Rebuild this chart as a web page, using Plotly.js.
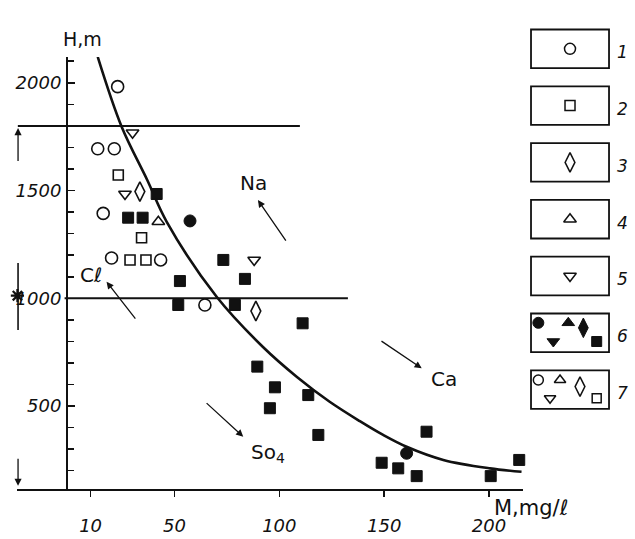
<!DOCTYPE html>
<html><head><meta charset="utf-8">
<script src="https://cdn.plot.ly/plotly-3.0.1.min.js"></script>
<style>html,body{margin:0;padding:0;background:#fff}#chart{width:635px;height:539px}</style>
</head><body><div id="chart"></div>
<script>
// ---- data (M, mg/l ; H, m) ----
const curveM = [13.4, 24.8, 37, 46.3, 70.1, 92.2, 108.4, 124.0, 138.4, 149.5, 160.7, 178.2, 200.4, 215.5];
const curveH = [2120, 1796, 1549, 1355, 1007, 774, 635, 520, 430, 366, 311, 250, 211, 195];

const s1M = [13.4, 22.9, 13.4, 21.3, 16.0, 20.0, 43.4, 64.5];
const s1H = [2120, 1982, 1694, 1694, 1394, 1187, 1178, 969];
const s2M = [23.2, 34.3, 28.8, 36.4];
const s2H = [1572, 1281, 1178, 1178];
const s3M = [33.5, 88.8];
const s3H = [1495, 941];
const s4M = [42.3];
const s4H = [1355];
const s5M = [30.0, 26.4, 88.0];
const s5H = [1768, 1484, 1178];
const s6cM = [57.4, 160.7];
const s6cH = [1359, 281];
const s6sM = [41.5, 27.9, 34.8, 73.3, 52.6, 83.6, 51.8, 78.8, 111.1, 89.5, 97.9, 113.8, 95.5, 118.6, 170.2, 148.8, 156.7, 165.5, 200.8, 214.4];
const s6sH = [1484, 1374, 1374, 1178, 1080, 1090, 969, 969, 884, 683, 587, 551, 490, 366, 381, 237, 211, 175, 175, 250];

const xTicks = [10, 50, 100, 150, 200];
const xTickText = ['10', '50', '100', '150', '200'];
const legendLabels = ['1', '2', '3', '4', '5', '6', '7'];
const levelLines = [1800, 1000];

// ---- geometry helpers ----
const W = 635, Hpx = 539, ML = 17, MR = 5, MT = 20, MB = 20;
const PW = W - ML - MR, PH = Hpx - MT - MB;
const px = X => (X - ML) / PW;
const py = Y => (Hpx - MB - Y) / PH;

const FONT = 'DejaVu Sans';
const ink = '#111';

const traces = [];
traces.push({x: curveM, y: curveH, mode: 'lines', line: {color: ink, width: 2.6, shape: 'spline', smoothing: 1}, hoverinfo: 'skip', cliponaxis: false});

function pts(xs, ys, symbol, size, filled) {
  return {x: xs, y: ys, mode: 'markers', cliponaxis: false,
    marker: {symbol: symbol, size: size, color: ink,
      line: {color: ink, width: filled ? 1 : 1.6}}};
}
traces.push(pts(s1M, s1H, 'circle-open', 12, false));
traces.push(pts(s2M, s2H, 'square-open', 10, false));
traces.push(pts(s3M, s3H, 'diamond-tall-open', 14, false));
traces.push(pts(s4M, s4H, 'triangle-up-open', 11, false));
traces.push(pts(s5M, s5H, 'triangle-down-open', 11, false));
traces.push(pts(s6cM, s6cH, 'circle', 12, true));
traces.push(pts(s6sM, s6sH, 'square', 11, true));

// ---- legend (layout on a helper axis: x in box widths, y in slot index) ----
const legendItems = [
  [{s: 'circle-open', dx: 0, dy: 0, z: 11}],
  [{s: 'square-open', dx: 0, dy: 0, z: 10}],
  [{s: 'diamond-tall-open', dx: 0, dy: 0, z: 14}],
  [{s: 'triangle-up-open', dx: 0, dy: 0, z: 11}],
  [{s: 'triangle-down-open', dx: 0, dy: 0, z: 11}],
  [{s: 'circle', dx: -0.406, dy: -0.176, z: 11}, {s: 'triangle-down', dx: -0.214, dy: 0.153, z: 11},
   {s: 'triangle-up', dx: -0.022, dy: -0.176, z: 11}, {s: 'diamond-tall', dx: 0.171, dy: -0.088, z: 14},
   {s: 'square', dx: 0.342, dy: 0.153, z: 10}],
  [{s: 'circle-open', dx: -0.406, dy: -0.169, z: 10}, {s: 'triangle-down-open', dx: -0.256, dy: 0.153, z: 10},
   {s: 'triangle-up-open', dx: -0.128, dy: -0.169, z: 10}, {s: 'diamond-tall-open', dx: 0.128, dy: -0.053, z: 14},
   {s: 'square-open', dx: 0.342, dy: 0.153, z: 9}]
];
const shapes = [];
const annotations = [];
legendItems.forEach((items, i) => {
  const slot = i + 1;
  shapes.push({type: 'rect', xref: 'x2', yref: 'y2', x0: -0.5, x1: 0.5, y0: slot - 0.34, y1: slot + 0.34,
    line: {color: ink, width: 1.8}, fillcolor: 'rgba(0,0,0,0)'});
  items.forEach(it => {
    const filled = !it.s.endsWith('open');
    traces.push({x: [it.dx], y: [slot + it.dy], xaxis: 'x2', yaxis: 'y2', mode: 'markers', cliponaxis: false,
      marker: {symbol: it.s, size: it.z, color: ink, line: {color: ink, width: filled ? 1 : 1.5}}, hoverinfo: 'skip'});
  });
  annotations.push({xref: 'x2', yref: 'y2', x: 0.667, y: slot + 0.06, text: legendLabels[i], showarrow: false,
    font: {family: FONT, size: 17, color: ink, style: 'italic'}});
});

// level lines
shapes.push({type: 'line', xref: 'x', yref: 'y', x0: -24.7, x1: 109.8, y0: levelLines[0], y1: levelLines[0], line: {color: ink, width: 2}});
shapes.push({type: 'line', xref: 'x', yref: 'y', x0: -2.4, x1: 132.7, y0: levelLines[1], y1: levelLines[1], line: {color: ink, width: 2}});
// left vertical marker with asterisk sign
shapes.push({type: 'line', xref: 'x', yref: 'y', x0: -24.6, x1: -24.6, y0: 853, y1: 1164, line: {color: ink, width: 1.6}});
traces.push({x: [-24.9], y: [1012], mode: 'markers', cliponaxis: false, hoverinfo: 'skip',
  marker: {symbol: 'asterisk-open', size: 11, color: ink, line: {color: ink, width: 2.2}}});

function arrow(xh, yh, xt, yt) {
  annotations.push({xref: 'x', yref: 'y', axref: 'x', ayref: 'y', x: xh, y: yh, ax: xt, ay: yt, text: '',
    showarrow: true, arrowhead: 2, arrowsize: 1.1, arrowwidth: 1.3, arrowcolor: ink, standoff: 0});
}
arrow(-24.6, 1790, -24.6, 1630);
arrow(-24.6, 130, -24.6, 262);
arrow(89.8, 1456, 103.6, 1261);
arrow(17.6, 1077, 31.9, 899);
arrow(82.8, 358, 64.6, 520);
arrow(167.9, 675, 148.0, 806);

function label(x, y, t, size) {
  annotations.push({xref: 'x', yref: 'y', x: x, y: y, text: t, showarrow: false,
    font: {family: FONT, size: size, color: ink}});
}
label(87.9, 1533, 'Na', 20);
label(10.4, 1110, 'Cℓ', 20);
label(94.6, 284, 'So<sub>4</sub>', 20);
label(178.5, 625, 'Ca', 20);

annotations.push({xref: 'paper', yref: 'paper', x: px(61), y: py(26), text: 'H,m', showarrow: false,
  font: {family: FONT, size: 19, color: ink}});
annotations.push({xref: 'paper', yref: 'paper', x: px(570), y: py(522), text: 'M,mg/ℓ', showarrow: false,
  font: {family: FONT, size: 21, color: ink}});

const tickFont = {family: FONT, size: 18, color: ink, style: 'italic'};
const layout = {
  width: W, height: Hpx,
  margin: {l: ML, r: MR, t: MT, b: MB},
  paper_bgcolor: '#fff', plot_bgcolor: 'rgba(0,0,0,0)',
  showlegend: false,
  xaxis: {domain: [0, px(523)], range: [-25.1, 216.2], anchor: 'y', showline: true, linewidth: 2, linecolor: ink,
    ticks: 'outside', tickvals: xTicks, ticktext: xTickText, ticklen: 6, tickwidth: 1.5, tickcolor: ink,
    tickfont: tickFont, ticklabelstandoff: 13, showgrid: false, zeroline: false, fixedrange: true},
  yaxis: {domain: [py(489.3), py(57)], range: [113.8, 2119.6], anchor: 'free', position: px(67),
    showline: true, linewidth: 2, linecolor: ink, ticks: 'inside', tick0: 0, dtick: 500, ticklen: 7, tickwidth: 1.5,
    tickcolor: ink, tickfont: tickFont, ticklabelstandoff: 1, showgrid: false, zeroline: false,
    minor: {dtick: 100, tick0: 0, ticks: 'inside', ticklen: 6, tickwidth: 1.5, tickcolor: ink, showgrid: false}},
  xaxis2: {domain: [px(525), 1], range: [-0.577, 0.769], anchor: 'y2', visible: false, fixedrange: true},
  yaxis2: {domain: [0, 1], range: [9.278, 0.493], anchor: 'x2', visible: false, fixedrange: true},
  shapes: shapes,
  annotations: annotations
};
Plotly.newPlot('chart', traces, layout, {staticPlot: true, displayModeBar: false});
</script></body></html>
